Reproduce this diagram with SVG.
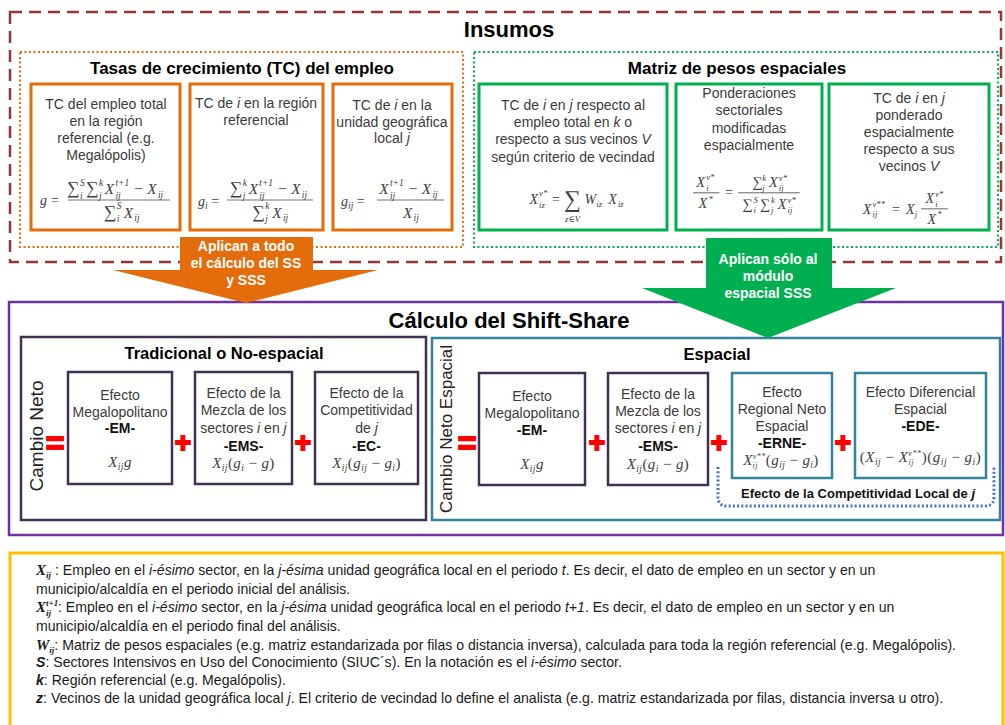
<svg xmlns="http://www.w3.org/2000/svg" width="1005" height="725" viewBox="0 0 1005 725">
<defs><style>
text{font-family:"Liberation Sans",Arial,sans-serif}
.h1{font-size:22px;font-weight:bold;fill:#000;text-anchor:middle}
.h2{font-size:17px;font-weight:bold;fill:#000;text-anchor:middle}
.h3{font-size:16.5px;font-weight:bold;fill:#000;text-anchor:middle}
.b{font-size:14px;fill:#3b3b3b;text-anchor:middle}
.l{font-size:14px;font-weight:bold;fill:#111;text-anchor:middle}
.i{font-style:italic}
.m{font-family:"Liberation Serif","DejaVu Serif",serif;font-style:italic;font-size:13px;fill:#404040}
.mf{font-size:15px;letter-spacing:0.4px}
.mn{font-style:normal}
.sb{font-size:9.5px}
.ss{font-size:8px}
.ar{font-size:14px;font-weight:bold;fill:#fff;text-anchor:middle}
.op{font-weight:bold;fill:#f00;stroke:#f00;stroke-width:1.8;text-anchor:middle}
.lg{font-size:14.1px;fill:#1a1a1a}
.lx{font-family:"Liberation Serif",serif;font-weight:bold;font-style:italic;font-size:15px}
.lxs{font-family:"Liberation Serif",serif;font-weight:bold;font-style:italic;font-size:9px}
.lb{font-weight:bold;font-style:italic}
.ob{fill:#fff;stroke:#E46C0A;stroke-width:3}
.gb{fill:#fff;stroke:#00B050;stroke-width:3}
.pb{fill:#fff;stroke:#403152;stroke-width:2.5}
.tb{fill:#fff;stroke:#31849B;stroke-width:2.5}
.fr{stroke:#505050;stroke-width:0.8}
</style></defs>
<rect width="1005" height="725" fill="#fff"/>

<g id="insumos">
<rect x="10" y="12" width="991" height="250" fill="none" stroke="#953735" stroke-width="2.5" stroke-dasharray="12 7"/>
<text class="h1" x="509" y="37">Insumos</text>
</g>

<g id="tasas-crecimiento">
<rect x="20" y="52" width="443" height="195" fill="none" stroke="#E46C0A" stroke-width="2" stroke-dasharray="2 2.5"/>
<text class="h2" x="242" y="74">Tasas de crecimiento (TC) del empleo</text>
</g>

<g id="tc-total">
<rect class="ob" x="31" y="84" width="149" height="146"/>
<text class="b" x="106" y="109">TC del empleo total</text>
<text class="b" x="106" y="126">en la región</text>
<text class="b" x="106" y="143">referencial (e.g.</text>
<text class="b" x="106" y="160">Megalópolis)</text>
<text class="m" x="40" y="205" style="font-size:14px">g</text>
<text class="m mn" x="51" y="205" style="font-size:14px">=</text>
<line class="fr" x1="68" y1="200" x2="170" y2="200"/>
<g transform="translate(119,200) scale(1.18) translate(-119,-200)">
<text class="m"><tspan class="mn" x="75" y="195" font-size="15">∑</tspan><tspan class="ss" x="86" y="188">S</tspan><tspan class="ss" x="86" y="199">i</tspan><tspan class="mn" x="91" y="195" font-size="15">∑</tspan><tspan class="ss" x="102" y="188">k</tspan><tspan class="ss" x="102" y="199">j</tspan><tspan x="107" y="195">X</tspan><tspan class="ss" x="116" y="188">t+1</tspan><tspan class="ss" x="116" y="199">ij</tspan><tspan class="mn" x="132" y="195">−</tspan><tspan x="143" y="195">X</tspan><tspan class="ss" x="152" y="198">ij</tspan></text>
<text class="m"><tspan class="mn" x="106" y="215" font-size="15">∑</tspan><tspan class="ss" x="117" y="208">S</tspan><tspan class="ss" x="117" y="219">i</tspan><tspan x="123" y="215">X</tspan><tspan class="ss" x="132" y="218">ij</tspan></text>
</g>
</g>

<g id="tc-i-region">
<rect class="ob" x="190" y="84" width="133" height="146"/>
<text class="b" x="256" y="108">TC de <tspan class="i">i</tspan> en la región</text>
<text class="b" x="256" y="125">referencial</text>
<text class="m" x="198" y="206" style="font-size:14px">g<tspan class="sb" dy="3">i</tspan><tspan class="mn" dy="-3"> =</tspan></text>
<line class="fr" x1="227" y1="200" x2="313" y2="200"/>
<g transform="translate(270,200) scale(1.18) translate(-270,-200)">
<text class="m"><tspan class="mn" x="236" y="195" font-size="15">∑</tspan><tspan class="ss" x="247" y="188">k</tspan><tspan class="ss" x="247" y="199">j</tspan><tspan x="252" y="195">X</tspan><tspan class="ss" x="261" y="188">t+1</tspan><tspan class="ss" x="261" y="199">ij</tspan><tspan class="mn" x="277" y="195">−</tspan><tspan x="288" y="195">X</tspan><tspan class="ss" x="297" y="198">ij</tspan></text>
<text class="m"><tspan class="mn" x="255" y="215" font-size="15">∑</tspan><tspan class="ss" x="266" y="208">k</tspan><tspan class="ss" x="266" y="219">j</tspan><tspan x="272" y="215">X</tspan><tspan class="ss" x="281" y="218">ij</tspan></text>
</g>
</g>

<g id="tc-i-local">
<rect class="ob" x="333" y="84" width="119" height="146"/>
<text class="b" x="392" y="110">TC de <tspan class="i">i</tspan> en la</text>
<text class="b" x="392" y="127">unidad geográfica</text>
<text class="b" x="392" y="143">local  <tspan class="i">j</tspan></text>
<text class="m" x="341" y="206" style="font-size:14px">g<tspan class="sb" dy="3">ij</tspan><tspan class="mn" dy="-3"> =</tspan></text>
<line class="fr" x1="377" y1="200" x2="444" y2="200"/>
<g transform="translate(410,200) scale(1.18) translate(-410,-200)">
<text class="m"><tspan x="384" y="195">X</tspan><tspan class="ss" x="393" y="188">t+1</tspan><tspan class="ss" x="393" y="199">ij</tspan><tspan class="mn" x="409" y="195">−</tspan><tspan x="420" y="195">X</tspan><tspan class="ss" x="429" y="198">ij</tspan></text>
<text class="m"><tspan x="404" y="215">X</tspan><tspan class="ss" x="413" y="218">ij</tspan></text>
</g>
</g>

<g id="matriz-pesos">
<rect x="474" y="52" width="524" height="195" fill="none" stroke="#00B050" stroke-width="2" stroke-dasharray="2 2.5"/>
<text class="h2" x="737" y="74">Matriz de pesos espaciales</text>
</g>

<g id="tc-ij-k">
<rect class="gb" x="479" y="84" width="188" height="146"/>
<text class="b" x="573" y="110">TC de <tspan class="i">i</tspan> en <tspan class="i">j</tspan> respecto al</text>
<text class="b" x="573" y="127">empleo total en <tspan class="i">k</tspan>  o</text>
<text class="b" x="573" y="144">respecto a sus vecinos <tspan class="i">V</tspan></text>
<text class="b" x="573" y="162">según criterio de vecindad</text>
<g transform="translate(578,205) scale(1.08) translate(-578,-205)">
<text class="m"><tspan x="533" y="204">X</tspan><tspan class="ss" x="542" y="197">v*</tspan><tspan class="ss" x="542" y="208">iz</tspan><tspan class="mn" x="554" y="204">=</tspan><tspan class="mn" x="565" y="207" font-size="22">∑</tspan><tspan class="ss" x="566" y="221">z∈V</tspan><tspan x="584" y="204">W</tspan><tspan class="ss" x="595" y="207">iz</tspan><tspan x="606" y="204">X</tspan><tspan class="ss" x="615" y="207">iz</tspan></text>
</g>
</g>

<g id="ponderaciones">
<rect class="gb" x="676" y="84" width="146" height="146"/>
<text class="b" x="749" y="98">Ponderaciones</text>
<text class="b" x="749" y="115">sectoriales</text>
<text class="b" x="749" y="133">modificadas</text>
<text class="b" x="749" y="150">espacialmente</text>
<g transform="translate(748,195) scale(1.1) translate(-748,-195)">
<line class="fr" x1="698" y1="193" x2="722" y2="193"/>
<line class="fr" x1="739" y1="193" x2="795" y2="193"/>
<text class="m"><tspan x="701" y="188">X</tspan><tspan class="ss" x="710" y="181">v*</tspan><tspan class="ss" x="710" y="191">i</tspan><tspan x="703" y="207">X</tspan><tspan class="ss" x="712" y="201">*</tspan><tspan class="mn" x="727" y="197">=</tspan></text>
<text class="m"><tspan class="mn" x="752" y="188">∑</tspan><tspan class="ss" x="761" y="182">k</tspan><tspan class="ss" x="761" y="191">j</tspan><tspan x="767" y="188">X</tspan><tspan class="ss" x="776" y="182">v*</tspan><tspan class="ss" x="776" y="191">ij</tspan></text>
<text class="m"><tspan class="mn" x="743" y="208">∑</tspan><tspan class="ss" x="753" y="202">S</tspan><tspan class="ss" x="753" y="211">i</tspan><tspan class="mn" x="759" y="208">∑</tspan><tspan class="ss" x="769" y="202">k</tspan><tspan class="ss" x="769" y="211">j</tspan><tspan x="775" y="208">X</tspan><tspan class="ss" x="784" y="202">v*</tspan><tspan class="ss" x="784" y="211">ij</tspan></text>
</g>
</g>

<g id="tc-ij-ponderado">
<rect class="gb" x="829" y="84" width="160" height="146"/>
<text class="b" x="909" y="103">TC de <tspan class="i">i</tspan> en <tspan class="i">j</tspan></text>
<text class="b" x="909" y="120">ponderado</text>
<text class="b" x="909" y="137">espacialmente</text>
<text class="b" x="909" y="154">respecto a sus</text>
<text class="b" x="909" y="171">vecinos <tspan class="i">V</tspan></text>
<g transform="translate(906,211) scale(1.08) translate(-906,-211)">
<line class="fr" x1="920" y1="209" x2="945" y2="209"/>
<text class="m"><tspan x="866" y="214">X</tspan><tspan class="ss" x="875" y="207">v**</tspan><tspan class="ss" x="875" y="217">ij</tspan><tspan class="mn" x="893" y="214">=</tspan><tspan x="906" y="214">X</tspan><tspan class="ss" x="914" y="217">j</tspan><tspan x="924" y="204">X</tspan><tspan class="ss" x="933" y="198">v*</tspan><tspan class="ss" x="933" y="207">i</tspan><tspan x="926" y="223">X</tspan><tspan class="ss" x="935" y="217">*</tspan></text>
</g>
</g>

<g id="calculo-shift-share">
<rect x="9" y="302" width="994" height="233" fill="none" stroke="#7030A0" stroke-width="2.5"/>
<text class="h1" x="509" y="328">Cálculo del Shift-Share</text>
</g>

<g id="tradicional">
<rect x="21" y="337" width="405" height="183" fill="#fff" stroke="#403152" stroke-width="2.5"/>
<text class="h3" x="224" y="359">Tradicional o No-espacial</text>
<text transform="translate(43,436) rotate(-90)" font-size="19" fill="#222" text-anchor="middle">Cambio Neto</text>
<text class="op" x="55" y="454" font-size="32">=</text>
<text class="op" x="183" y="452" font-size="28">+</text>
<text class="op" x="303" y="452" font-size="28">+</text>
</g>

<g id="trad-em">
<rect class="pb" x="68" y="372" width="104" height="112"/>
<text class="b" x="120" y="400">Efecto</text>
<text class="b" x="120" y="417">Megalopolitano</text>
<text class="l" x="120" y="433">-EM-</text>
<text class="m mf" x="120" y="467" text-anchor="middle">X<tspan class="sb" dy="3">ij</tspan><tspan dy="-3">g</tspan></text>
</g>

<g id="trad-ems">
<rect class="pb" x="195" y="372" width="97" height="112"/>
<text class="b" x="243.5" y="398">Efecto de la</text>
<text class="b" x="243.5" y="415">Mezcla de los</text>
<text class="b" x="243.5" y="433">sectores <tspan class="i">i</tspan> en <tspan class="i">j</tspan></text>
<text class="l" x="243.5" y="451">-EMS-</text>
<text class="m mf" x="243.5" y="468" text-anchor="middle">X<tspan class="sb" dy="3">ij</tspan><tspan class="mn" dy="-3">(</tspan>g<tspan class="sb" dy="3">i</tspan><tspan class="mn" dy="-3"> − </tspan>g<tspan class="mn">)</tspan></text>
</g>

<g id="trad-ec">
<rect class="pb" x="315" y="372" width="103" height="112"/>
<text class="b" x="366.5" y="398">Efecto de la</text>
<text class="b" x="366.5" y="415">Competitividad</text>
<text class="b" x="366.5" y="433">de <tspan class="i">j</tspan></text>
<text class="l" x="366.5" y="451">-EC-</text>
<text class="m mf" x="366.5" y="468" text-anchor="middle">X<tspan class="sb" dy="3">ij</tspan><tspan class="mn" dy="-3">(</tspan>g<tspan class="sb" dy="3">ij</tspan><tspan class="mn" dy="-3"> − </tspan>g<tspan class="sb" dy="3">i</tspan><tspan class="mn" dy="-3">)</tspan></text>
</g>

<g id="espacial">
<rect x="432" y="338" width="568" height="182" fill="#fff" stroke="#31849B" stroke-width="2.5"/>
<text class="h3" x="717" y="360">Espacial</text>
<text transform="translate(452,429) rotate(-90)" font-size="17" fill="#222" text-anchor="middle">Cambio Neto Espacial</text>
<text class="op" x="467" y="454" font-size="32">=</text>
<text class="op" x="597" y="452" font-size="28">+</text>
<text class="op" x="719" y="452" font-size="28">+</text>
<text class="op" x="843" y="452" font-size="28">+</text>
</g>

<g id="esp-em">
<rect class="pb" x="479" y="373" width="106" height="112"/>
<text class="b" x="532" y="401">Efecto</text>
<text class="b" x="532" y="418">Megalopolitano</text>
<text class="l" x="532" y="435">-EM-</text>
<text class="m mf" x="532" y="469" text-anchor="middle">X<tspan class="sb" dy="3">ij</tspan><tspan dy="-3">g</tspan></text>
</g>

<g id="esp-ems">
<rect class="pb" x="608" y="373" width="100" height="112"/>
<text class="b" x="658" y="399">Efecto de la</text>
<text class="b" x="658" y="416">Mezcla de los</text>
<text class="b" x="658" y="433">sectores <tspan class="i">i</tspan> en <tspan class="i">j</tspan></text>
<text class="l" x="658" y="451">-EMS-</text>
<text class="m mf" x="658" y="469" text-anchor="middle">X<tspan class="sb" dy="3">ij</tspan><tspan class="mn" dy="-3">(</tspan>g<tspan class="sb" dy="3">i</tspan><tspan class="mn" dy="-3"> − </tspan>g<tspan class="mn">)</tspan></text>
</g>

<g id="esp-erne">
<rect class="tb" x="732" y="373" width="100" height="105"/>
<text class="b" x="782" y="397">Efecto</text>
<text class="b" x="782" y="414">Regional Neto</text>
<text class="b" x="782" y="431">Espacial</text>
<text class="l" x="782" y="448">-ERNE-</text>
<text class="m" x="781" y="465" text-anchor="middle" style="font-size:15px;letter-spacing:0.4px">X<tspan class="ss" dy="-6">v**</tspan><tspan class="ss" dx="-13" dy="9">ij</tspan><tspan class="mn" dx="8" dy="-3">(</tspan>g<tspan class="sb" dy="3">ij</tspan><tspan class="mn" dy="-3"> − </tspan>g<tspan class="sb" dy="3">i</tspan><tspan class="mn" dy="-3">)</tspan></text>
</g>

<g id="esp-ede">
<rect class="tb" x="855" y="373" width="131" height="105"/>
<text class="b" x="920.5" y="397">Efecto Diferencial</text>
<text class="b" x="920.5" y="414">Espacial</text>
<text class="l" x="920.5" y="431">-EDE-</text>
<text class="m" x="920.5" y="462" text-anchor="middle" style="font-size:15px;letter-spacing:0.5px"><tspan class="mn">(</tspan>X<tspan class="sb" dy="3">ij</tspan><tspan class="mn" dy="-3"> − </tspan>X<tspan class="ss" dy="-6">v**</tspan><tspan class="ss" dx="-13" dy="9">ij</tspan><tspan class="mn" dx="8" dy="-3">)(</tspan>g<tspan class="sb" dy="3">ij</tspan><tspan class="mn" dy="-3"> − </tspan>g<tspan class="sb" dy="3">i</tspan><tspan class="mn" dy="-3">)</tspan></text>
</g>

<g id="competitividad-local">
<path d="M718,467 V497 Q718,506 727,506 H985 Q994,506 994,497 V467" fill="none" stroke="#4472C4" stroke-width="3" stroke-dasharray="2 2.2"/>
<text x="858" y="498" font-size="13" font-weight="bold" fill="#111" text-anchor="middle">Efecto de la Competitividad Local de <tspan class="i">j</tspan></text>
</g>

<g id="notas">
<rect x="10" y="553" width="993" height="200" fill="none" stroke="#FFC000" stroke-width="3"/>
<text class="lg" x="36" y="575"><tspan class="lx">X</tspan><tspan class="lxs" dy="3">ij</tspan><tspan dy="-3"> : Empleo en el </tspan><tspan class="i">i-ésimo</tspan> sector, en la <tspan class="i">j-ésima</tspan> unidad geográfica local en el periodo <tspan class="i">t</tspan>. Es decir, el dato de empleo en un sector y en un</text>
<text class="lg" x="36" y="594">municipio/alcaldía en el periodo inicial del análisis.</text>
<text class="lg" x="36" y="612"><tspan class="lx">X</tspan><tspan class="lxs" x="46" dy="-6">t+1</tspan><tspan class="lxs" x="46" dy="10">ij</tspan><tspan x="58" dy="-4">: Empleo en el </tspan><tspan class="i">i-ésimo</tspan> sector, en la <tspan class="i">j-ésima</tspan> unidad geográfica local en el periodo <tspan class="i">t+1</tspan>. Es decir, el dato de empleo en un sector y en un</text>
<text class="lg" x="36" y="631">municipio/alcaldía en el periodo final del análisis.</text>
<text class="lg" x="36" y="650"><tspan class="lx">W</tspan><tspan class="lxs" dy="3">ij</tspan><tspan dy="-3">: Matriz de pesos espaciales (e.g. matriz estandarizada por filas o distancia inversa), calculada para toda la región referencial (e.g. Megalópolis).</tspan></text>
<text class="lg" x="36" y="667"><tspan class="lb">S</tspan>: Sectores Intensivos en Uso del Conocimiento (SIUC´s). En la notación es el <tspan class="i">i-ésimo</tspan> sector.</text>
<text class="lg" x="36" y="685"><tspan class="lb">k</tspan>: Región referencial (e.g. Megalópolis).</text>
<text class="lg" x="36" y="703"><tspan class="lb">z</tspan>: Vecinos de la unidad geográfica local <tspan class="i">j</tspan>. El criterio de vecindad lo define el analista (e.g. matriz estandarizada por filas, distancia inversa u otro).</text>
</g>

<g id="connectors">
<g id="arrow-todo">
<polygon points="180,237 313,237 313,270 378,270 246,303 113,270 180,270" fill="#E46C0A"/>
<text class="ar" x="246" y="251">Aplican a todo</text>
<text class="ar" x="246" y="268">el cálculo del SS</text>
<text class="ar" x="246" y="285">y SSS</text>
</g>
<g id="arrow-espacial">
<polygon points="706,238 832,238 832,288 896,288 768,338 642,288 706,288" fill="#00B050"/>
<text class="ar" x="768" y="264">Aplican sólo al</text>
<text class="ar" x="768" y="281">módulo</text>
<text class="ar" x="768" y="298">espacial SSS</text>
</g>
</g>
</svg>
